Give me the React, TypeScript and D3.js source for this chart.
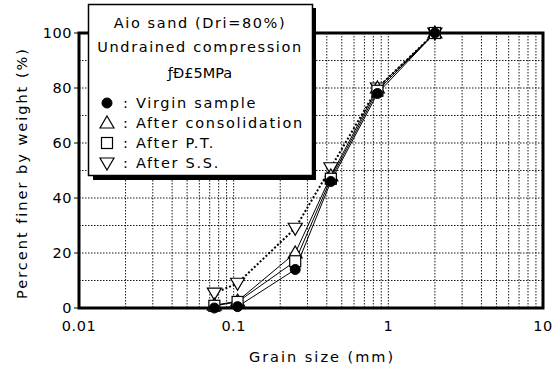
import React from "react";
import * as d3 from "d3";

const sizes = [0.075, 0.106, 0.25, 0.425, 0.85, 2.0];
const virgin = [0, 0.5, 14, 46, 78, 100];
const afterConsolidation = [1, 2.5, 20, 48, 80, 100];
const afterPT = [0.8, 2.2, 17, 47, 79, 100];
const afterSS = [5.4, 9, 29, 51, 80, 100];
const yTicks = [0, 20, 40, 60, 80, 100];
const xTicks = [0.01, 0.1, 1, 10];
const xTickLabels = ["0.01", "0.1", "1", "10"];
const legendTitle = ["Aio sand (Dri=80%)", "Undrained compression", "ƒÐ£5MPa"];
const seriesNames = [": Virgin sample", ": After consolidation", ": After P.T.", ": After S.S."];

const W = 560, H = 370;
const L = 79, R = 543, T = 33, B = 308;
const FONT = "'DejaVu Sans', sans-serif";

function Marker({ kind, x, y }: { kind: string; x: number; y: number }) {
  if (kind === "circle") return <circle cx={x} cy={y} r={5} fill="#000" stroke="#000" />;
  if (kind === "up")
    return <path d={`M${x},${y - 7}L${x + 7},${y + 5}L${x - 7},${y + 5}Z`} fill="#fff" stroke="#000" strokeWidth={1.2} />;
  if (kind === "square")
    return <rect x={x - 5.5} y={y - 5.5} width={11} height={11} fill="#fff" stroke="#000" strokeWidth={1.2} />;
  return <path d={`M${x},${y + 7}L${x + 7},${y - 5}L${x - 7},${y - 5}Z`} fill="#fff" stroke="#000" strokeWidth={1.2} />;
}

export default function App() {
  const x = d3.scaleLog().domain([0.01, 10]).range([L, R]);
  const y = d3.scaleLinear().domain([0, 100]).range([B, T]);
  const line = d3.line<[number, number]>().x((d) => x(d[0])).y((d) => y(d[1]));

  const vGrid: number[] = [];
  [0.01, 0.1, 1].forEach((dec) => {
    for (let k = 1; k <= 9; k++) if (!(k === 1 && dec === 0.01)) vGrid.push(dec * k);
  });
  const hGrid = d3.range(10, 100, 10);

  const series = [
    { vals: virgin, kind: "circle", dash: undefined as string | undefined, w: 1 },
    { vals: afterConsolidation, kind: "up", dash: undefined, w: 1 },
    { vals: afterPT, kind: "square", dash: undefined, w: 1 },
    { vals: afterSS, kind: "down", dash: "2,2", w: 2 },
  ];
  const drawOrder = [3, 1, 2, 0];

  return (
    <svg width={W} height={H} style={{ position: "absolute", left: 0, top: 0, background: "#fff" }} fontFamily={FONT}>
      <rect width={W} height={H} fill="#fff" />
      {vGrid.map((v, i) => (
        <line key={"v" + i} x1={x(v)} x2={x(v)} y1={T} y2={B} stroke="#000" strokeWidth={0.9} strokeDasharray="1.5,1.5" />
      ))}
      {hGrid.map((v, i) => (
        <line key={"h" + i} x1={L} x2={R} y1={y(v)} y2={y(v)} stroke="#000" strokeWidth={0.9} strokeDasharray="1.5,1.5" />
      ))}
      <rect x={L} y={T} width={R - L} height={B - T} fill="none" stroke="#000" strokeWidth={3} />
      {yTicks.map((t) => (
        <g key={"yt" + t}>
          <line x1={L - 5} x2={L} y1={y(t)} y2={y(t)} stroke="#000" strokeWidth={1} />
          <text x={72} y={y(t)} dy="0.35em" textAnchor="end" fontSize={14.5} letterSpacing={0.5}>{t}</text>
        </g>
      ))}
      {xTicks.map((t, i) => (
        <text key={"xt" + t} x={x(t)} y={326} dy="0.35em" textAnchor="middle" fontSize={14.5} letterSpacing={0.5}>
          {xTickLabels[i]}
        </text>
      ))}
      <text x={322} y={357} dy="0.35em" textAnchor="middle" fontSize={14.5} letterSpacing={2}>Grain size (mm)</text>
      <text transform={`translate(22,173) rotate(-90)`} textAnchor="middle" dy="0.35em" fontSize={14.5} letterSpacing={2}>
        Percent finer by weight (%)
      </text>
      {drawOrder.map((si) => {
        const s = series[si];
        const pts = sizes.map((d, i) => [d, s.vals[i]] as [number, number]);
        return (
          <path key={"l" + si} d={line(pts) || ""} fill="none" stroke="#000" strokeWidth={s.w} strokeDasharray={s.dash} />
        );
      })}
      {drawOrder.map((si) => {
        const s = series[si];
        return (
          <g key={"m" + si}>
            {sizes.map((d, i) => (
              <Marker key={i} kind={s.kind} x={x(d)} y={y(s.vals[i])} />
            ))}
          </g>
        );
      })}
      <rect x={93} y={8} width={223} height={172} fill="#000" />
      <rect x={88.5} y={4.5} width={224} height={171} fill="#fff" stroke="#000" strokeWidth={1.5} />
      <text x={200} y={23} dy="0.35em" textAnchor="middle" fontSize={14.5} letterSpacing={1.6}>{legendTitle[0]}</text>
      <text x={200} y={47} dy="0.35em" textAnchor="middle" fontSize={14.5} letterSpacing={1.6}>{legendTitle[1]}</text>
      <text x={200} y={73} dy="0.35em" textAnchor="middle" fontSize={14.5}>{legendTitle[2]}</text>
      {seriesNames.map((n, i) => {
        const cy = 103 + i * 20;
        return (
          <g key={"lg" + i}>
            <Marker kind={series[i].kind} x={107} y={cy} />
            <text x={123} y={cy} dy="0.35em" fontSize={14.5} letterSpacing={1.7}>{n}</text>
          </g>
        );
      })}
    </svg>
  );
}
